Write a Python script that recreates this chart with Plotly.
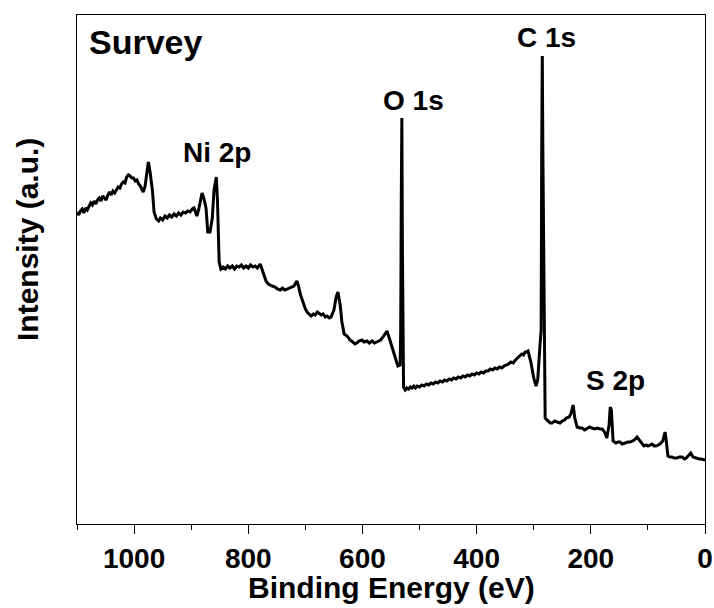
import plotly.graph_objects as go

# Binding energy (eV) and intensity (a.u.)
energy = [
    1100, 1097, 1094, 1091, 1088, 1085, 1082, 1079, 1076, 1073,
    1070, 1067, 1064, 1061, 1058, 1055, 1052, 1049, 1046, 1043,
    1040, 1037, 1034, 1031, 1028, 1025, 1022, 1019, 1016, 1013,
    1010, 1007, 1004, 1001, 998, 995, 992, 989, 986, 984,
    981, 979, 977, 975, 972, 968, 965, 961, 957, 954,
    950, 946, 942, 938, 934, 930, 926, 922, 918, 914,
    910, 906, 902, 898, 895, 892, 890, 887, 885, 881,
    878, 874, 871, 867, 863, 860, 856, 854, 851, 848,
    844, 840, 836, 832, 828, 824, 820, 816, 812, 808,
    804, 800, 796, 792, 788, 784, 779, 774, 769, 765,
    762, 758, 753, 749, 744, 740, 736, 732, 727, 723,
    720, 715, 712, 709, 704, 700, 697, 693, 690, 686,
    683, 679, 676, 672, 669, 665, 662, 658, 655, 650,
    646, 643, 639, 636, 632, 629, 627, 624, 622, 619,
    617, 613, 610, 606, 601, 597, 592, 588, 583, 579,
    575, 571, 568, 564, 561, 557, 552, 547, 541, 538,
    534, 533, 532, 531, 530, 528, 525, 522, 519, 516,
    513, 510, 507, 504, 500, 496, 492, 488, 484, 480,
    476, 472, 468, 464, 460, 456, 452, 448, 444, 440,
    436, 432, 428, 424, 420, 416, 412, 408, 404, 400,
    396, 392, 388, 384, 380, 376, 372, 368, 364, 360,
    356, 352, 348, 344, 340, 336, 332, 328, 324, 321,
    318, 315, 313, 310, 305, 300, 296, 293, 289, 287,
    286, 285, 284, 282, 280, 277, 275, 271, 268, 263,
    259, 254, 250, 246, 243, 238, 235, 231, 228, 224,
    219, 215, 211, 207, 202, 198, 193, 189, 184, 180,
    175, 172, 168, 166, 164, 161, 156, 152, 149, 145,
    140, 135, 131, 127, 124, 119, 114, 110, 107, 103,
    100, 96, 93, 89, 86, 82, 79, 74, 70, 68,
    65, 61, 58, 54, 49, 45, 40, 36, 33, 28,
    25, 21, 17, 14, 10, 7, 3, 0,
]
intensity = [
    312, 309, 313, 315, 311, 316, 314, 318, 321, 319,
    323, 320, 324, 326, 323, 328, 326, 324, 329, 332,
    329, 333, 331, 334, 337, 336, 340, 342, 341, 347,
    349, 348, 346, 346, 343, 344, 340, 338, 335, 332,
    337, 346, 356, 362, 352, 334, 312, 305, 303, 306,
    304, 308, 306, 309, 307, 310, 308, 311, 309, 312,
    311, 313, 312, 315, 316, 310, 308, 314, 320, 331,
    326, 316, 292, 292, 306, 334, 347, 324, 262, 255,
    257, 255, 258, 256, 258, 255, 258, 257, 259, 256,
    258, 256, 259, 257, 258, 256, 260, 252, 243, 240,
    239, 238, 237, 235, 234, 236, 234, 235, 236, 237,
    238, 243, 238, 230, 221, 215, 212, 210, 208, 210,
    209, 212, 211, 209, 210, 207, 208, 206, 207, 214,
    227, 232, 219, 202, 190, 189, 188, 186, 184, 183,
    182, 180, 181, 183, 184, 182, 183, 181, 183, 181,
    182, 183, 184, 187, 190, 193, 184, 174, 162, 158,
    159, 194, 324, 406, 274, 137, 134, 136, 135, 137,
    136, 138, 136, 138, 137, 139, 138, 140, 139, 141,
    140, 142, 141, 143, 142, 144, 143, 145, 144, 146,
    145, 147, 146, 148, 147, 149, 148, 150, 149, 151,
    150, 152, 151, 153, 153, 155, 154, 156, 155, 157,
    156, 158, 159, 160, 162, 161, 164, 166, 168, 170,
    169, 172, 172, 173, 162, 146, 138, 144, 179, 194,
    374, 468, 374, 194, 106, 104, 103, 101, 101, 103,
    102, 101, 103, 104, 106, 107, 110, 119, 106, 97,
    96, 96, 94, 95, 97, 96, 95, 96, 95, 95,
    91, 86, 99, 117, 114, 83, 81, 82, 82, 80,
    81, 82, 82, 83, 84, 87, 83, 80, 78, 79,
    78, 79, 80, 78, 78, 79, 80, 83, 92, 84,
    68, 67, 67, 66, 66, 67, 67, 65, 66, 69,
    71, 67, 66, 66, 65, 65, 64, 64,
]
assert len(energy) == len(intensity)

peak_labels = ["Ni 2p", "O 1s", "C 1s", "S 2p"]
label_energy = [855, 511, 277, 156]
label_intensity = [372, 424, 487, 144]

FONT = "Liberation Sans, Arial, sans-serif"

fig = go.Figure()
fig.add_trace(go.Scatter(x=energy, y=intensity, mode="lines",
                         line=dict(color="black", width=3), showlegend=False))

for t, ex, iy in zip(peak_labels, label_energy, label_intensity):
    fig.add_annotation(x=ex, y=iy, xref="x", yref="y", text=t, showarrow=False,
                       font=dict(family=FONT, size=28, color="black", weight="bold"),
                       xanchor="center", yanchor="middle")

fig.add_annotation(x=0.016, y=0.947, xref="paper", yref="paper", text="Survey",
                   showarrow=False, xanchor="left", yanchor="middle",
                   font=dict(family=FONT, size=34, color="black", weight="bold"))

# axis titles
fig.add_annotation(x=0.5, y=-0.125, xref="paper", yref="paper", text="Binding Energy (eV)",
                   showarrow=False, xanchor="center", yanchor="middle",
                   font=dict(family=FONT, size=30, color="black", weight="bold"))
fig.add_annotation(x=-0.078, y=0.558, xref="paper", yref="paper", text="Intensity (a.u.)",
                   showarrow=False, xanchor="center", yanchor="middle", textangle=-90,
                   font=dict(family=FONT, size=30, color="black", weight="bold"))

fig.update_layout(
    width=714, height=608,
    margin=dict(l=77, r=9, t=15, b=84, autoexpand=False),
    paper_bgcolor="white", plot_bgcolor="white",
    font=dict(family=FONT, color="black"),
)
fig.update_xaxes(
    range=[1100, 0], showgrid=False, zeroline=False, automargin=False,
    showline=True, linecolor="black", linewidth=1.2, mirror=True,
    tickmode="linear", tick0=0, dtick=200,
    ticks="outside", ticklen=9, tickwidth=1.2, tickcolor="black",
    minor=dict(ticks="outside", ticklen=5, tickwidth=1.2, tickcolor="black", dtick=100, tick0=0),
    tickfont=dict(family=FONT, size=28, color="black", weight="bold"),
)
fig.update_yaxes(
    range=[0, 509], showgrid=False, zeroline=False, automargin=False,
    showline=True, linecolor="black", linewidth=1.2, mirror=True,
    showticklabels=False, ticks="",
)

fig.write_html("out.html")
